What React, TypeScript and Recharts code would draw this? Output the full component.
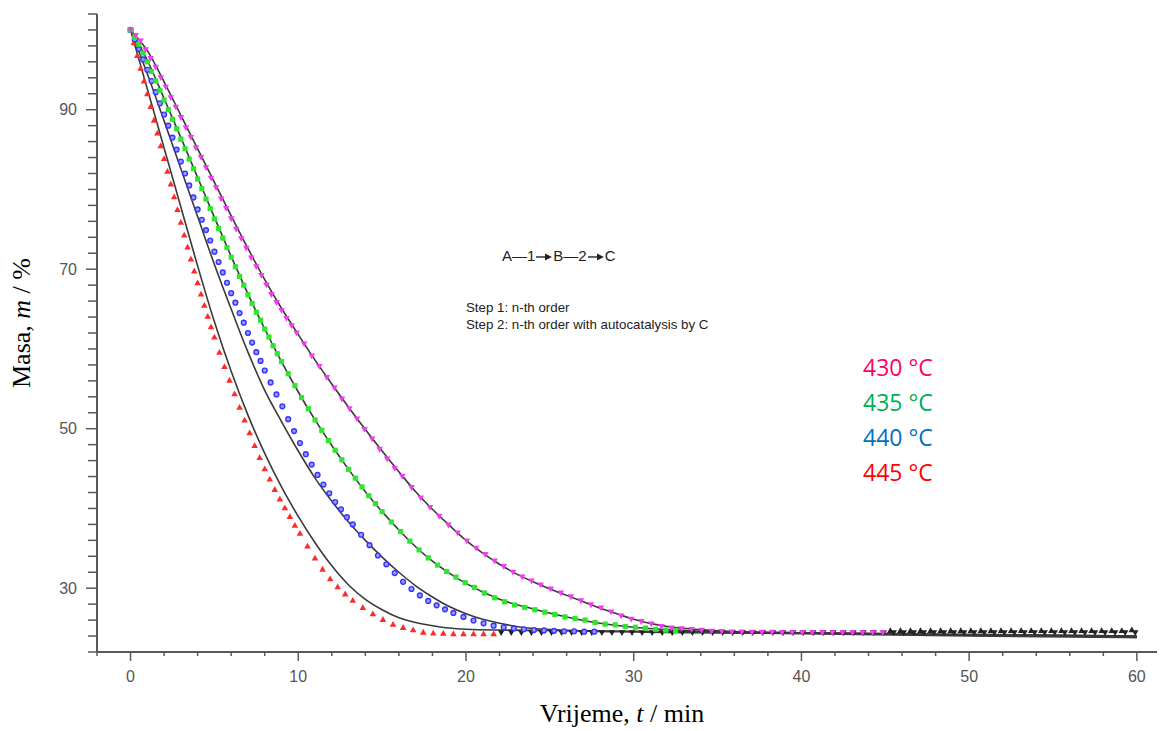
import React from 'react';
import { ComposedChart, Line, XAxis, YAxis } from 'recharts';

// measured points, 445 °C (red triangles)
const t445 = [0, 0.2, 0.4, 0.6, 0.8, 1, 1.2, 1.4, 1.6, 1.8, 2, 2.2, 2.4, 2.6, 2.8, 3, 3.2, 3.4, 3.6, 3.8, 4, 4.2, 4.4, 4.6, 4.8, 5,
  5.3, 5.6, 5.9, 6.2, 6.5, 6.8, 7.1, 7.4, 7.7, 8, 8.3, 8.6, 8.9, 9.2, 9.5, 9.8, 10.1,
  10.55, 11, 11.45, 11.9, 12.35, 12.8, 13.25,
  13.85, 14.45, 15.05, 15.65, 16.25, 16.85, 17.45, 18.05, 18.65, 19.25, 19.85, 20.45, 21.05, 21.65];
const m445 = [100, 98.4, 96.8, 95.2, 93.6, 92, 90.4, 88.7, 87.1, 85.5, 83.9, 82.3, 80.7, 79.1, 77.5, 75.9, 74.3, 72.8, 71.3, 69.8, 68.3, 66.9, 65.5, 64.1, 62.8, 61.5,
  59.6, 57.8, 56.1, 54.4, 52.7, 51.1, 49.5, 47.9, 46.4, 45, 43.7, 42.4, 41.2, 40.1, 39, 37.9, 36.9,
  35.3, 33.8, 32.4, 31.2, 30.2, 29.3, 28.5,
  27.6, 26.8, 26.1, 25.5, 25.1, 24.8, 24.5, 24.4, 24.35, 24.3, 24.3, 24.3, 24.3, 24.3];

// 440 °C (blue circles)
const t440 = [0, 0.25, 0.5, 0.75, 1, 1.25, 1.5, 1.75, 2, 2.25, 2.5, 2.75, 3, 3.25, 3.5, 3.75, 4, 4.25, 4.5, 4.75, 5, 5.25, 5.5, 5.75, 6, 6.25, 6.5, 6.75, 7, 7.25, 7.5, 7.75, 8,
  8.35, 8.7, 9.05, 9.4, 9.75, 10.1, 10.45, 10.8, 11.15, 11.5, 11.85, 12.2, 12.55, 12.9, 13.25,
  13.75, 14.25, 14.75, 15.25, 15.75, 16.25, 16.75, 17.25, 17.75, 18.25, 18.75, 19.25,
  19.85, 20.45, 21.05, 21.65, 22.25, 22.85, 23.45, 24.05, 24.65, 25.25, 25.85, 26.45, 27.05, 27.65];
const m440 = [100, 98.8, 97.6, 96.3, 95, 93.6, 92.2, 90.8, 89.4, 88, 86.5, 85, 83.5, 82, 80.5, 79, 77.5, 76.2, 74.9, 73.6, 72.2, 70.9, 69.6, 68.3, 67, 65.8, 64.5, 63.3, 62, 60.8, 59.6, 58.5, 57.3,
  55.8, 54.3, 52.8, 51.2, 49.7, 48.2, 46.8, 45.5, 44.2, 43, 41.9, 40.8, 39.9, 38.9, 38,
  36.7, 35.4, 34.1, 33, 31.9, 30.8, 29.9, 29.1, 28.4, 27.85, 27.35, 26.9,
  26.4, 25.95, 25.6, 25.3, 25.1, 24.95, 24.85, 24.75, 24.7, 24.65, 24.6, 24.6, 24.55, 24.55];

// 435 °C (green squares)
const t435 = [0, 0.25, 0.5, 0.75, 1, 1.25, 1.5, 1.75, 2, 2.25, 2.5, 2.75, 3, 3.25, 3.5, 3.75, 4, 4.25, 4.5, 4.75, 5, 5.25, 5.5, 5.75, 6, 6.25, 6.5, 6.75, 7, 7.25, 7.5, 7.75, 8, 8.25, 8.5, 8.75, 9,
  9.4, 9.8, 10.2, 10.6, 11, 11.4, 11.8, 12.2, 12.6, 13, 13.4, 13.8, 14.2, 14.6, 15,
  15.55, 16.1, 16.65, 17.2, 17.75, 18.3, 18.85, 19.4, 19.95, 20.5,
  21.1, 21.7, 22.3, 22.9, 23.5, 24.1, 24.7, 25.3, 25.9, 26.5, 27.1, 27.7, 28.3, 28.9, 29.5, 30.1, 30.7, 31.3, 31.9, 32.5];
const m435 = [100, 99.1, 98.2, 97.1, 96, 94.8, 93.6, 92.4, 91.2, 90, 88.8, 87.6, 86.3, 85.1, 83.8, 82.6, 81.3, 80.1, 78.8, 77.6, 76.3, 75.1, 73.9, 72.7, 71.5, 70.3, 69.1, 68, 66.8, 65.7, 64.6, 63.6, 62.5, 61.5, 60.4, 59.4, 58.4,
  56.9, 55.4, 53.9, 52.5, 51.1, 49.8, 48.5, 47.3, 46.1, 44.9, 43.8, 42.7, 41.6, 40.6, 39.6,
  38.3, 37.1, 35.9, 34.8, 33.8, 32.9, 32.1, 31.4, 30.7, 30.1,
  29.4, 28.8, 28.3, 27.9, 27.6, 27.3, 27, 26.7, 26.4, 26.2, 26, 25.7, 25.5, 25.4, 25.2, 25.1, 25, 24.85, 24.75, 24.7];

// 430 °C (magenta down triangles)
const t430 = [0, 0.3, 0.6, 0.9, 1.2, 1.5, 1.8, 2.1, 2.4, 2.7, 3, 3.3, 3.6, 3.9, 4.2, 4.5, 4.8, 5.1, 5.4, 5.7, 6, 6.3, 6.6, 6.9, 7.2, 7.5, 7.8, 8.1, 8.4, 8.7, 9, 9.3, 9.6, 9.9,
  10.35, 10.8, 11.25, 11.7, 12.15, 12.6, 13.05, 13.5, 13.95, 14.4, 14.85, 15.3, 15.75, 16.2,
  16.75, 17.3, 17.85, 18.4, 18.95, 19.5, 20.05, 20.6, 21.15, 21.7, 22.25, 22.8, 23.35, 23.9, 24.45,
  25.05, 25.65, 26.25, 26.85, 27.45, 28.05, 28.65, 29.25, 29.85, 30.45, 31.05, 31.65, 32.25, 32.85, 33.45, 34.05, 34.65,
  35.25, 35.85, 36.45, 37.05, 37.65, 38.25, 38.85, 39.45, 40.05, 40.65, 41.25, 41.85, 42.45, 43.05, 43.65, 44.25, 44.85];
const m430 = [100, 99.3, 98.6, 97.5, 96.4, 95.3, 94, 92.8, 91.5, 90.3, 89, 87.7, 86.5, 85.2, 84, 82.7, 81.4, 80.2, 78.8, 77.6, 76.3, 75, 73.8, 72.6, 71.4, 70.3, 69.2, 68, 66.8, 65.8, 64.8, 63.8, 62.9, 62,
  60.6, 59.1, 57.8, 56.4, 55.1, 53.7, 52.5, 51.2, 49.9, 48.7, 47.4, 46.2, 45, 44,
  42.6, 41.3, 40.1, 39, 37.9, 36.9, 35.9, 35, 34.2, 33.4, 32.7, 32, 31.4, 30.9, 30.4,
  29.9, 29.4, 28.9, 28.4, 27.9, 27.5, 27, 26.5, 26.1, 25.8, 25.5, 25.2, 25, 24.9, 24.8, 24.7, 24.6,
  24.55, 24.5, 24.5, 24.45, 24.45, 24.45, 24.4, 24.4, 24.4, 24.4, 24.4, 24.4, 24.4, 24.4, 24.4, 24.4, 24.4];

// black points after the coloured runs end
const tTailA = [22.1, 22.7, 23.3, 23.9, 24.5, 25.1, 25.7, 26.3, 26.9, 27.5, 28.1, 28.7, 29.3, 29.9, 30.5, 31.1, 31.7, 32.3, 32.9, 33.5,
  34.1, 34.7, 35.3, 35.9, 36.5, 37.1, 37.7, 38.3, 38.9, 39.5, 40.1, 40.7, 41.3, 41.9, 42.5, 43.1, 43.7, 44.3, 44.9, 45.5,
  46.1, 46.7, 47.3, 47.9, 48.5, 49.1, 49.7, 50.3, 50.9, 51.5, 52.1, 52.7, 53.3, 53.9, 54.5, 55.1, 55.7, 56.3, 56.9, 57.5, 58.1, 58.7, 59.3, 59.9];
const mTailA = [24.4, 24.4, 24.4, 24.4, 24.4, 24.4, 24.4, 24.4, 24.4, 24.4, 24.4, 24.4, 24.4, 24.4, 24.4, 24.4, 24.4, 24.4, 24.4, 24.4,
  24.4, 24.4, 24.4, 24.4, 24.4, 24.4, 24.4, 24.4, 24.4, 24.4, 24.4, 24.4, 24.4, 24.4, 24.4, 24.4, 24.4, 24.4, 24.4, 24.4,
  24.4, 24.4, 24.4, 24.4, 24.4, 24.4, 24.4, 24.4, 24.4, 24.4, 24.4, 24.4, 24.4, 24.4, 24.4, 24.4, 24.4, 24.4, 24.4, 24.4, 24.4, 24.4, 24.4, 24.4];
const tTailB = [45.3, 45.9, 46.5, 47.1, 47.7, 48.3, 48.9, 49.5, 50.1, 50.7, 51.3, 51.9, 52.5, 53.1, 53.7, 54.3, 54.9, 55.5, 56.1, 56.7, 57.3, 57.9, 58.5, 59.1, 59.7];
const mTailB = [24.7, 24.7, 24.7, 24.7, 24.7, 24.7, 24.7, 24.7, 24.7, 24.7, 24.7, 24.7, 24.7, 24.7, 24.7, 24.7, 24.7, 24.7, 24.7, 24.7, 24.7, 24.7, 24.7, 24.7, 24.8];

// model curves (black lines)
const fitT445 = [0, 1, 2, 3, 4, 5, 6, 7, 8, 9, 10, 11, 12, 13, 14, 15, 16, 17, 18, 19, 20, 22, 25, 30, 35, 40, 50, 60];
const fitM445 = [100, 92.6, 85.2, 77.8, 70.4, 63.4, 57.2, 51.7, 46.9, 42.7, 39, 35.7, 32.8, 30.4, 28.6, 27.3, 26.3, 25.7, 25.3, 25, 24.85, 24.75, 24.7, 24.6, 24.5, 24.4, 24.2, 24];
const fitT440 = [0, 1, 2, 3, 4, 5, 6, 7, 8, 9, 10, 11, 12, 13, 14, 15, 16, 17, 18, 19, 20, 21, 22, 23, 25, 30, 40, 50, 60];
const fitM440 = [100, 94.5, 88.6, 82.6, 76.6, 70.6, 65, 59.6, 54.8, 50.9, 47.2, 43.8, 40.9, 38.3, 36, 33.9, 32, 30.3, 28.9, 27.7, 26.8, 26.1, 25.6, 25.2, 24.8, 24.5, 24.3, 24, 23.8];
const fitT435 = [0, 1, 2, 3, 4, 5, 6, 7, 8, 9, 10, 11, 12, 13, 14, 15, 16, 17, 18, 19, 20, 22, 24, 26, 28, 30, 33, 36, 40, 50, 60];
const fitM435 = [100, 96.2, 91.4, 86.5, 81.5, 76.5, 71.6, 66.9, 62.5, 58.4, 54.6, 51.1, 47.9, 44.9, 42.1, 39.6, 37.3, 35.2, 33.4, 31.9, 30.6, 28.6, 27.4, 26.4, 25.6, 25.1, 24.7, 24.5, 24.4, 24.1, 23.9];
const fitT430 = [0, 1, 2, 3, 4, 5, 6, 7, 8, 9, 10, 11, 12, 13, 14, 15, 16, 17, 18, 19, 20, 21, 22, 23, 24, 25, 26, 27, 28, 29, 30, 32, 34, 36, 40, 45, 50, 60];
const fitM430 = [100, 97.4, 93.5, 89.3, 85.1, 80.9, 76.7, 72.6, 68.7, 65.1, 61.8, 58.6, 55.6, 52.7, 49.9, 47.2, 44.6, 42.1, 39.9, 37.9, 36, 34.4, 33, 31.8, 30.8, 29.9, 29.1, 28.3, 27.5, 26.8, 26.1, 25.2, 24.8, 24.55, 24.4, 24.3, 24.2, 24];

const xTicks = [-2, 0, 2, 4, 6, 8, 10, 12, 14, 16, 18, 20, 22, 24, 26, 28, 30, 32, 34, 36, 38, 40, 42, 44, 46, 48, 50, 52, 54, 56, 58, 60];
const xTickLabels = [0, 10, 20, 30, 40, 50, 60];
const yTicks = [22, 24, 26, 28, 30, 32, 34, 36, 38, 40, 42, 44, 46, 48, 50, 52, 54, 56, 58, 60, 62, 64, 66, 68, 70, 72, 74, 76, 78, 80, 82, 84, 86, 88, 90, 92, 94, 96, 98, 100, 102];
const yTickLabels = [30, 50, 70, 90];

const legendLabels = ['430 °C', '435 °C', '440 °C', '445 °C'];
const legendColors = ['#ff0066', '#00b050', '#0070c0', '#ff0000'];

const zip = (ts: number[], ms: number[]) => ts.map((t, i) => ({ t, m: ms[i] }));

const AXIS = '#595959';
const LABEL_FONT = '"Liberation Sans", Arial, sans-serif';
const SERIF = '"Liberation Serif", "Times New Roman", serif';

const XTick = (props: any) => {
    const { x, y, payload } = props;
    const major = xTickLabels.includes(payload.value);
    return (
        <g>
            <line x1={x} x2={x} y1={y} y2={y + (major ? 9 : 4)} stroke={AXIS} strokeWidth={1.5} />
            {major && (
                <text x={x} y={y + 24} textAnchor="middle" dominantBaseline="central" fontSize={16} fill="#555" fontFamily={LABEL_FONT}>
                    {payload.value}
                </text>
            )}
        </g>
    );
};

const YTick = (props: any) => {
    const { x, y, payload } = props;
    const major = yTickLabels.includes(payload.value);
    return (
        <g>
            <line x1={x - (major ? 11 : 9)} x2={x} y1={y} y2={y} stroke={AXIS} strokeWidth={1.5} />
            {major && (
                <text x={x - 20} y={y} textAnchor="end" dominantBaseline="central" fontSize={16} fill="#555" fontFamily={LABEL_FONT}>
                    {payload.value}
                </text>
            )}
        </g>
    );
};

// marker shapes
const triUp = (color: string) => (p: any) => {
    const { cx, cy, key } = p;
    if (cx == null || cy == null) return <g key={key} />;
    return <polygon key={key} points={`${cx},${cy - 3.2} ${cx + 3.3},${cy + 2.6} ${cx - 3.3},${cy + 2.6}`} fill={color} />;
};
const triDown = (color: string) => (p: any) => {
    const { cx, cy, key } = p;
    if (cx == null || cy == null) return <g key={key} />;
    return <polygon key={key} points={`${cx - 3.3},${cy - 2.6} ${cx + 3.3},${cy - 2.6} ${cx},${cy + 3.2}`} fill={color} />;
};
const square = (color: string) => (p: any) => {
    const { cx, cy, key } = p;
    if (cx == null || cy == null) return <g key={key} />;
    return <rect key={key} x={cx - 2.6} y={cy - 2.6} width={5.2} height={5.2} fill={color} />;
};
const circle = (color: string) => (p: any) => {
    const { cx, cy, key } = p;
    if (cx == null || cy == null) return <g key={key} />;
    return <circle key={key} cx={cx} cy={cy} r={2.4} fill="#9a9aff" stroke={color} strokeWidth={1.4} />;
};

const markerSeries = [
    { id: 'tailA', data: zip(tTailA, mTailA), dot: triDown('#222') },
    { id: 'tailB', data: zip(tTailB, mTailB), dot: triUp('#222') },
    { id: 'm445', data: zip(t445, m445), dot: triUp('#ff2a2a') },
    { id: 'm440', data: zip(t440, m440), dot: circle('#3434ff') },
    { id: 'm435', data: zip(t435, m435), dot: square('#2ee62e') },
    { id: 'm430', data: zip(t430, m430), dot: triDown('#f03cf0') },
];

const fitSeries = [
    { id: 'f445', data: zip(fitT445, fitM445) },
    { id: 'f440', data: zip(fitT440, fitM440) },
    { id: 'f435', data: zip(fitT435, fitM435) },
    { id: 'f430', data: zip(fitT430, fitM430) },
];

// short line with a filled head, as in the reaction scheme
const Arrow = () => (
    <svg width={16} height={10} style={{ verticalAlign: 'middle', margin: '0 1px' }}>
        <line x1={0} y1={5} x2={10} y2={5} stroke="#222" strokeWidth={1.4} />
        <polygon points="9,1.5 16,5 9,8.5" fill="#222" />
    </svg>
);

const App: React.FC = () => {
    return (
        <div style={{ position: 'absolute', left: 0, top: 0, width: 1161, height: 731, background: '#fff' }}>
            <ComposedChart width={1161} height={731} margin={{ top: 14, right: 4, bottom: 0, left: 0 }}>
                <XAxis
                    dataKey="t"
                    type="number"
                    domain={[-2, 61.2]}
                    ticks={xTicks}
                    allowDataOverflow
                    height={79}
                    axisLine={{ stroke: AXIS, strokeWidth: 2 }}
                    tickLine={false}
                    tickSize={0}
                    tickMargin={0}
                    tick={<XTick />}
                    interval={0}
                />
                <YAxis
                    dataKey="m"
                    type="number"
                    domain={[22, 102]}
                    ticks={yTicks}
                    allowDataOverflow
                    width={97}
                    axisLine={{ stroke: AXIS, strokeWidth: 2 }}
                    tickLine={false}
                    tickSize={0}
                    tickMargin={0}
                    tick={<YTick />}
                    interval={0}
                />
                {markerSeries.map(s => (
                    <Line
                        key={s.id}
                        data={s.data}
                        dataKey="m"
                        stroke="none"
                        dot={s.dot}
                        activeDot={false}
                        legendType="none"
                        isAnimationActive={false}
                    />
                ))}
                {fitSeries.map(s => (
                    <Line
                        key={s.id}
                        data={s.data}
                        dataKey="m"
                        type="monotone"
                        stroke="#3a3a3a"
                        strokeWidth={1.6}
                        dot={false}
                        activeDot={false}
                        legendType="none"
                        isAnimationActive={false}
                    />
                ))}
            </ComposedChart>

            {/* axis titles */}
            <div style={{
                position: 'absolute', left: 22, top: 323, transform: 'translate(-50%, -50%) rotate(-90deg)',
                fontFamily: SERIF, fontSize: 26, whiteSpace: 'nowrap', color: '#000',
            }}>
                Masa, <i>m</i> / %
            </div>
            <div style={{
                position: 'absolute', left: 622, top: 714, transform: 'translate(-50%, -50%)',
                fontFamily: SERIF, fontSize: 26, whiteSpace: 'nowrap', color: '#000',
            }}>
                Vrijeme, <i>t</i> / min
            </div>

            {/* reaction scheme */}
            <div style={{ position: 'absolute', left: 502, top: 247, fontFamily: LABEL_FONT, fontSize: 15, lineHeight: '18px', color: '#222', whiteSpace: 'nowrap' }}>
                A—1<Arrow />B—2<Arrow />C
            </div>
            <div style={{ position: 'absolute', left: 466, top: 299, fontFamily: LABEL_FONT, fontSize: 13.3, lineHeight: '17px', color: '#222', whiteSpace: 'nowrap' }}>
                <div>Step 1: n-th order</div>
                <div>Step 2: n-th order with autocatalysis by C</div>
            </div>

            {/* temperature labels */}
            {legendLabels.map((label, i) => (
                <div key={label} style={{
                    position: 'absolute', left: 863, top: 367 + i * 35, transform: 'translateY(-50%)',
                    fontFamily: '"Open Sans", "Noto Sans", sans-serif', fontSize: 23, color: legendColors[i], whiteSpace: 'nowrap',
                }}>
                    {label}
                </div>
            ))}
        </div>
    );
};

export default App;
